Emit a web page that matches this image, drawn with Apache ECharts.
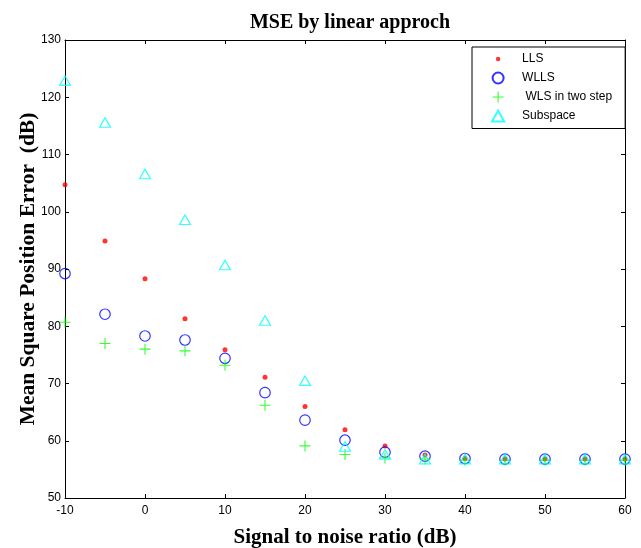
<!DOCTYPE html>
<html>
<head>
<meta charset="utf-8">
<script src="https://cdn.jsdelivr.net/npm/echarts@6/dist/echarts.min.js"></script>
<style>
  html, body { margin: 0; padding: 0; background: #fff; }
  #chart { width: 641px; height: 548px; }
</style>
</head>
<body>
<div id="chart"></div>
<script>
const snr      = [-10, -5, 0, 5, 10, 15, 20, 25, 30, 35, 40, 45, 50, 55, 60]
const lls      = [104.7, 94.9, 88.3, 81.3, 75.9, 71.1, 66.0, 61.9, 59.1, 57.5, 56.9, 56.8, 56.8, 56.8, 56.8]
const wlls     = [89.2, 82.1, 78.3, 77.6, 74.4, 68.4, 63.6, 60.1, 58.0, 57.3, 56.9, 56.8, 56.8, 56.8, 56.8]
const wlsTwo   = [80.7, 77.0, 76.0, 75.7, 73.2, 66.2, 59.1, 57.6, 57.0, 56.8, 56.6, 56.6, 56.6, 56.6, 56.6]
const subspace = [122.9, 115.6, 106.6, 98.6, 90.7, 81.0, 70.5, 59.0, 57.6, 56.8, 56.8, 56.8, 56.8, 56.8, 56.8]
const seriesNames = ['LLS', 'WLLS', ' WLS in two step', 'Subspace']

const pairs = ys => snr.map((x, i) => [x, ys[i]])

const PLUS = 'path://M4.5,0h1v10h-1zM0,4.5h10v1h-10z'
const TRI  = 'path://M5,0L10,9L0,9Z'
// small dot padded by invisible corners so the legend keeps it small
const DOT_ICON = 'path://M0,0h0.01v0.01h-0.01zM10,10h0.01v0.01h-0.01zM3,5a2,2 0 1,0 4,0a2,2 0 1,0 -4,0z'

const chart = echarts.init(document.getElementById('chart'), null, { renderer: 'canvas' })

const labelFont = { color: '#000', fontSize: 12, fontFamily: 'Liberation Sans' }
const nameFont  = { color: '#000', fontSize: 21, fontWeight: 'bold', fontFamily: 'Liberation Serif' }
const axisLine  = { show: true, onZero: false, lineStyle: { color: '#000', width: 1 } }
const tick      = { show: true, inside: true, length: 4, lineStyle: { color: '#000' } }

chart.setOption({
  backgroundColor: '#fff',
  animation: false,
  title: {
    text: 'MSE by linear approch',
    left: 345, top: 8, textAlign: 'center',
    textStyle: { color: '#000', fontSize: 20, fontWeight: 'bold', fontFamily: 'Liberation Serif' },
  },
  grid: { left: 65, right: 16, top: 40, bottom: 50, outerBoundsMode: 'none', containLabel: false },
  legend: {
    orient: 'vertical', left: 472, top: 47,
    backgroundColor: '#fff', borderColor: '#000', borderWidth: 1,
    padding: [6, 13, 6, 19],
    itemWidth: 38, itemHeight: 11, itemGap: 6.5,
    textStyle: labelFont,
    data: [
      { name: seriesNames[0], icon: DOT_ICON },
      { name: seriesNames[1] },
      { name: seriesNames[2] },
      { name: seriesNames[3] },
    ],
  },
  xAxis: [
    {
      type: 'value', min: -10, max: 60, interval: 10,
      name: 'Signal to noise ratio (dB)', nameLocation: 'middle', nameGap: 29, nameMoveOverlap: false,
      nameTextStyle: nameFont,
      axisLine, axisTick: tick, axisLabel: { ...labelFont, margin: 7 }, splitLine: { show: false },
    },
    {
      type: 'value', position: 'top', min: -10, max: 60, interval: 10,
      axisLine, axisTick: tick, axisLabel: { show: false }, splitLine: { show: false },
    },
  ],
  yAxis: [
    {
      type: 'value', min: 50, max: 130, interval: 10,
      name: 'Mean Square Position Error  (dB)', nameLocation: 'middle', nameGap: 26, nameMoveOverlap: false,
      nameTextStyle: { ...nameFont, fontSize: 21.5 },
      axisLine, axisTick: tick, axisLabel: { ...labelFont, margin: 4 }, splitLine: { show: false },
    },
    {
      type: 'value', position: 'right', min: 50, max: 130, interval: 10,
      axisLine, axisTick: tick, axisLabel: { show: false }, splitLine: { show: false },
    },
  ],
  series: [
    {
      name: seriesNames[0], type: 'scatter', data: pairs(lls),
      symbol: 'circle', symbolSize: 5,
      itemStyle: { color: '#ff0000' },
    },
    {
      name: seriesNames[1], type: 'scatter', data: pairs(wlls),
      symbol: 'circle', symbolSize: 10.5,
      itemStyle: { color: 'rgba(0,0,0,0)', borderColor: '#0000ff', borderWidth: 1.2 },
    },
    {
      name: seriesNames[2], type: 'scatter', data: pairs(wlsTwo),
      symbol: PLUS, symbolSize: 11,
      itemStyle: { color: '#00ff00' },
    },
    {
      name: seriesNames[3], type: 'scatter', data: pairs(subspace),
      symbol: TRI, symbolSize: [11, 9.5],
      itemStyle: { color: 'rgba(0,0,0,0)', borderColor: '#00ffff', borderWidth: 1.2 },
    },
  ],
})
</script>
</body>
</html>
